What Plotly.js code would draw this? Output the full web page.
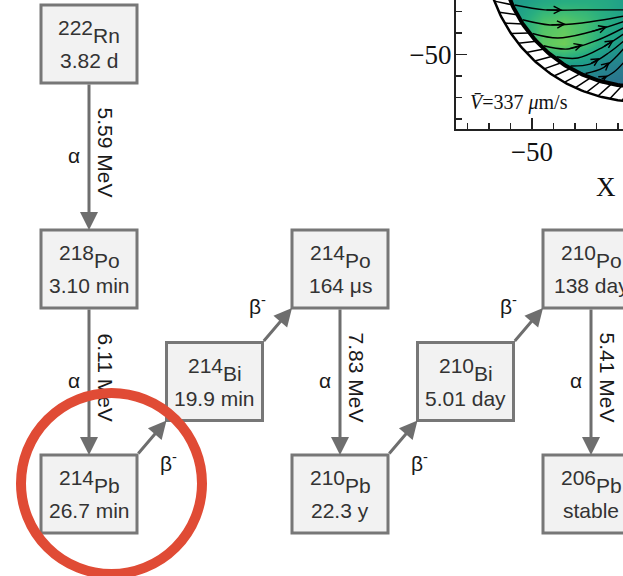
<!DOCTYPE html>
<html>
<head>
<meta charset="utf-8">
<script src="https://cdn.plot.ly/plotly-3.0.1.min.js"></script>
<style>
  html, body { margin: 0; padding: 0; background: #fff; overflow: hidden; }
  #chain, #ring { position: absolute; left: 0; top: 0; width: 623px; height: 576px; }
  #ring { pointer-events: none; }
</style>
</head>
<body>
<div id="chain"></div>
<div id="ring"></div>
<script>
// ---- Radon-222 decay chain down to stable lead-206 ----
const massNumbers = [222, 218, 214, 214, 214, 210, 210, 210, 206];
const elements    = ['Rn', 'Po', 'Pb', 'Bi', 'Po', 'Pb', 'Bi', 'Po', 'Pb'];
const halfLives   = ['3.82 d', '3.10 min', '26.7 min', '19.9 min', '164 μs', '22.3 y', '5.01 day', '138 day', 'stable'];

const decayParent   = [0, 1, 2, 3, 4, 5, 6, 7];
const decayDaughter = [1, 2, 3, 4, 5, 6, 7, 8];
const decayModes    = ['α', 'α', 'β-', 'β-', 'α', 'β-', 'β-', 'α'];
const decayEnergies = ['5.59 MeV', '6.11 MeV', '', '', '7.83 MeV', '', '', '5.41 MeV'];

// ---- Inset: flow field inside the channel (speed, normalised) ----
const fieldX = [-85, -75, -65, -55, -45, -35, -25, -15, -5];
const fieldY = [-85, -75, -65, -55, -45, -35, -25];
const fieldZ = [
  [0.35, 0.35, 0.35, 0.35, 0.35, 0.35, 0.35, 0.35, 0.35],
  [0.35, 0.35, 0.35, 0.35, 0.35, 0.35, 0.35, 0.35, 0.35],
  [0.40, 0.40, 0.40, 0.40, 0.42, 0.42, 0.40, 0.38, 0.36],
  [0.45, 0.45, 0.45, 0.50, 0.52, 0.55, 0.52, 0.45, 0.42],
  [0.50, 0.50, 0.50, 0.60, 0.75, 0.78, 0.70, 0.58, 0.52],
  [0.50, 0.50, 0.52, 0.60, 0.72, 0.75, 0.70, 0.62, 0.55],
  [0.50, 0.50, 0.52, 0.55, 0.60, 0.62, 0.62, 0.60, 0.55]
];
const meanSpeed = 337;
const streamX = [
  [-58.0, -43.9, -27.6, -6.7],
  [-54.3, -41.6, -26.7, -6.7],
  [-49.7, -37.9, -23.0, -6.7],
  [-44.5, -33.2, -19.3, -6.7],
  [-38.5, -28.6, -16.9, -6.7],
  [-32.0, -23.0, -13.7, -6.7],
  [-25.0, -16.9, -10.4, -6.7],
  [-17.6, -11.8, -6.7]
];
const streamY = [
  [-27.0, -29.3, -29.3, -29.3],
  [-33.9, -36.3, -35.4, -32.1],
  [-40.3, -42.4, -39.6, -34.5],
  [-46.0, -47.5, -43.3, -37.3],
  [-51.1, -51.7, -46.6, -40.1],
  [-55.4, -54.5, -48.9, -43.3],
  [-58.9, -56.3, -50.7, -46.6],
  [-61.5, -58.2, -53.1]
];
const streamArrowAt = [1, 1, 2, 1, 2, 1, 1, 0];

// ---- drawing constants ----
const FIG_W = 623, FIG_H = 576;
const COL_PX = 125.5, LEVEL_PX = 225;      // pixel pitch of the diagram grid
const ORIGIN_X = 89, ORIGIN_Y = 44;         // pixel centre of the first box
const BOX_W = 48, BOX_H = 39;               // half sizes of a box in px
const nodeColumn = [0, 0, 0, 1, 2, 2, 3, 4, 4];
const nodeLevel  = [0, 1, 2, 1.5, 1, 2, 1.5, 1, 2];

const SANS = '"Liberation Sans", Arial, Helvetica, sans-serif';
const SERIF = '"Liberation Serif", "Times New Roman", serif';
const BOX_TEXT = '#333333', LABEL_TEXT = '#1a1a1a', ARROW = '#6e6e6e';
const FS = 21;

const ctx = document.createElement('canvas').getContext('2d');
ctx.font = FS + 'px "Liberation Sans"';
const textW = s => ctx.measureText(s).width;

const shapes = [];
const annotations = [];
const dx = BOX_W / COL_PX, dy = BOX_H / LEVEL_PX;

// boxes and their labels
massNumbers.forEach((m, i) => {
  const c = nodeColumn[i], l = nodeLevel[i];
  shapes.push({
    type: 'rect', xref: 'x', yref: 'y',
    xsizemode: 'pixel', ysizemode: 'pixel', xanchor: c, yanchor: l,
    x0: -BOX_W, x1: BOX_W, y0: -BOX_H, y1: BOX_H,
    line: { color: '#777777', width: 3 }, fillcolor: '#f2f2f2'
  });
  const split = (textW(String(m)) - textW(elements[i])) / 2;
  const base = { xref: 'x', yref: 'y', x: c, y: l, showarrow: false, yanchor: 'middle',
                 borderpad: 0, borderwidth: 0, font: { family: SANS, size: FS, color: BOX_TEXT } };
  annotations.push(Object.assign({}, base, { text: String(m), xanchor: 'right', xshift: split, yshift: 16.5 }));
  annotations.push(Object.assign({}, base, { text: elements[i], xanchor: 'left', xshift: split, yshift: 8.3 }));
  annotations.push(Object.assign({}, base, { text: halfLives[i], xanchor: 'center', yshift: -16.7 }));
});

// decay arrows with mode and energy labels
decayParent.forEach((p, k) => {
  const d = decayDaughter[k];
  const cp = nodeColumn[p], lp = nodeLevel[p], cd = nodeColumn[d], ld = nodeLevel[d];
  let tx, ty, hx, hy;
  if (cp === cd) { tx = cp; ty = lp + dy; hx = cd; hy = ld - dy; }
  else { tx = cp + dx; ty = lp - dy; hx = cd - dx; hy = ld + dy; }
  annotations.push({
    xref: 'x', yref: 'y', axref: 'x', ayref: 'y', x: hx, y: hy, ax: tx, ay: ty,
    text: '', showarrow: true, arrowhead: 2, arrowsize: 1.2, arrowwidth: 3,
    arrowcolor: ARROW, standoff: 0, startstandoff: 0
  });
  const mx = (tx + hx) / 2, my = (ty + hy) / 2;
  const lab = { xref: 'x', yref: 'y', x: mx, y: my, showarrow: false, borderpad: 0, borderwidth: 0,
                font: { family: SANS, size: FS, color: LABEL_TEXT } };
  if (decayModes[k] === 'α') {
    annotations.push(Object.assign({}, lab, { text: 'α', xshift: -15, yshift: 1 }));
    annotations.push(Object.assign({}, lab, { text: decayEnergies[k], textangle: 90, xshift: 16, yshift: 4 }));
  } else {
    const lowerLeg = lp > ld && lp === 2;
    annotations.push(Object.assign({}, lab, {
      text: decayModes[k].replace('-', '<sup>-</sup>'),
      xshift: lowerLeg ? 17 : -20, yshift: lowerLeg ? -24 : 20
    }));
  }
});

// ---- inset geometry ----
function ring(r, a0, a1, step) {
  const xs = [], ys = [];
  for (let a = a0; step > 0 ? a <= a1 : a >= a1; a += step) {
    xs.push(r * Math.cos(a * Math.PI / 180));
    ys.push(r * Math.sin(a * Math.PI / 180));
  }
  return { x: xs, y: ys };
}
const R_IN = 65, R_OUT = 72;
const hole = ring(R_IN, 0, -360, -2);
const maskX = [-100, 10, 10, -100, -100, null].concat(hole.x);
const maskY = [-100, -100, 10, 10, -100, null].concat(hole.y);
const hatchX = [], hatchY = [];
for (let a = 182; a <= 300; a += 4.5) {
  const b = a - 4;
  hatchX.push(R_IN * Math.cos(a * Math.PI / 180), R_OUT * Math.cos(b * Math.PI / 180), null);
  hatchY.push(R_IN * Math.sin(a * Math.PI / 180), R_OUT * Math.sin(b * Math.PI / 180), null);
}
const inner = ring(R_IN, 0, 360, 1), outer = ring(R_OUT, 0, 360, 1);

const inset = { xaxis: 'x2', yaxis: 'y2', hoverinfo: 'skip', showlegend: false };
const traces = [
  Object.assign({ type: 'heatmap', x: fieldX, y: fieldY, z: fieldZ, colorscale: 'Viridis',
                  zmin: 0, zmax: 1, zsmooth: 'best', showscale: false }, inset),
  Object.assign({ type: 'scatter', mode: 'none', x: maskX, y: maskY, fill: 'toself',
                  fillcolor: '#ffffff' }, inset)
];
streamX.forEach((xs, i) => {
  traces.push(Object.assign({ type: 'scatter', mode: 'lines', x: xs, y: streamY[i],
    line: { color: '#000', width: 1.4, shape: 'spline' } }, inset));
  const j = streamArrowAt[i];
  annotations.push({
    xref: 'x2', yref: 'y2', axref: 'x2', ayref: 'y2',
    ax: xs[j], ay: streamY[i][j],
    x: (xs[j] + xs[j + 1]) / 2, y: (streamY[i][j] + streamY[i][j + 1]) / 2,
    text: '', showarrow: true, arrowhead: 5, arrowsize: 1.1, arrowwidth: 1.3, arrowcolor: '#000', standoff: 0
  });
});
traces.push(Object.assign({ type: 'scatter', mode: 'lines', x: hatchX, y: hatchY,
  line: { color: '#000', width: 1.5 } }, inset));
traces.push(Object.assign({ type: 'scatter', mode: 'lines', x: inner.x, y: inner.y,
  line: { color: '#000', width: 4 } }, inset));
traces.push(Object.assign({ type: 'scatter', mode: 'lines', x: outer.x, y: outer.y,
  line: { color: '#000', width: 2.5 } }, inset));

annotations.push({
  xref: 'x2', yref: 'y2', x: -79.7, y: -72.6, xanchor: 'left', yanchor: 'middle', showarrow: false,
  text: '<i>V̄</i>=' + meanSpeed + ' <i>μ</i>m/s', font: { family: SERIF, size: 20, color: '#111' }
});
annotations.push({
  xref: 'paper', yref: 'paper', x: 606 / FIG_W, y: 1 - 187 / FIG_H, xanchor: 'center', yanchor: 'middle',
  showarrow: false, text: 'X', font: { family: SERIF, size: 27, color: '#111' }
});

const insetAxis = {
  showline: true, linecolor: '#222', linewidth: 2, mirror: false,
  ticks: 'inside', ticklen: 11, tickwidth: 1.5, tickcolor: '#222',
  dtick: 50, tick0: 0, showgrid: false, zeroline: false,
  tickfont: { family: SERIF, size: 27, color: '#111' },
  minor: { ticks: 'inside', ticklen: 6, tickwidth: 1.5, tickcolor: '#222', dtick: 10, tick0: 0, showgrid: false },
  fixedrange: true
};

const layout = {
  width: FIG_W, height: FIG_H,
  margin: { l: 0, r: 0, t: 0, b: 0, pad: 0 },
  paper_bgcolor: '#ffffff', plot_bgcolor: 'rgba(0,0,0,0)',
  showlegend: false,
  xaxis: { domain: [0, 1], range: [-ORIGIN_X / COL_PX, (FIG_W - ORIGIN_X) / COL_PX], visible: false, fixedrange: true },
  yaxis: { domain: [0, 1], range: [(FIG_H - ORIGIN_Y) / LEVEL_PX, -ORIGIN_Y / LEVEL_PX], visible: false, fixedrange: true },
  xaxis2: Object.assign({}, insetAxis, { domain: [456 / FIG_W, 1], range: [-85.3, -7.6], anchor: 'y2', ticklabelstandoff: -2 }),
  yaxis2: Object.assign({}, insetAxis, { domain: [1 - 129 / FIG_H, 1], range: [-84.7, -24.7], anchor: 'x2', ticklabelstandoff: -3 }),
  shapes: shapes,
  annotations: annotations
};

Plotly.newPlot('chain', traces, layout, { staticPlot: true, displayModeBar: false });

// highlight ring around lead-214, drawn on a transparent layer above the diagram
Plotly.newPlot('ring', [], {
  width: FIG_W, height: FIG_H, margin: { l: 0, r: 0, t: 0, b: 0, pad: 0 },
  paper_bgcolor: 'rgba(0,0,0,0)', plot_bgcolor: 'rgba(0,0,0,0)',
  xaxis: { visible: false, range: [0, 1] }, yaxis: { visible: false, range: [0, 1] },
  shapes: [{
    type: 'circle', xref: 'paper', yref: 'paper',
    x0: 21 / FIG_W, x1: 202 / FIG_W, y0: 1 - 574 / FIG_H, y1: 1 - 393 / FIG_H,
    line: { color: '#e04b35', width: 10 }
  }]
}, { staticPlot: true, displayModeBar: false });
</script>
</body>
</html>
